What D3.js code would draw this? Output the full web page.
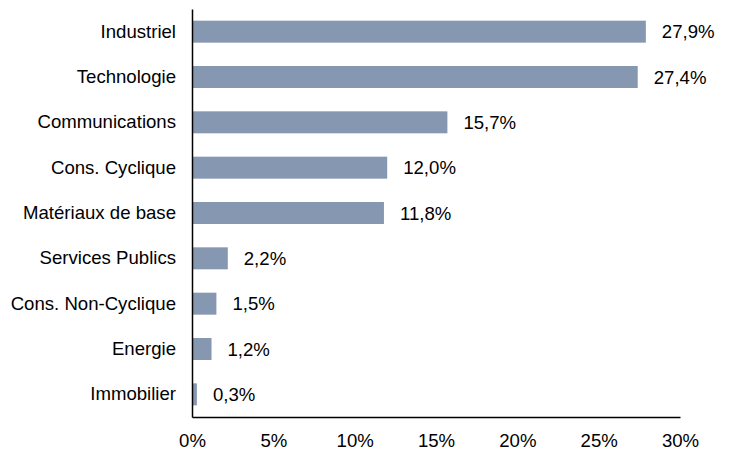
<!DOCTYPE html>
<html><head><meta charset="utf-8">
<script src="https://cdn.jsdelivr.net/npm/d3@7"></script>
<style>body{margin:0;background:#fff}svg{display:block}</style>
</head><body>
<svg id="c" width="730" height="450"></svg>
<script>
const categories = ["Industriel","Technologie","Communications","Cons. Cyclique","Matériaux de base","Services Publics","Cons. Non-Cyclique","Energie","Immobilier"];
const values = [27.9,27.4,15.7,12.0,11.8,2.2,1.5,1.2,0.3];
const tickValues = [0,5,10,15,20,25,30];

const svg = d3.select("#c");
const mLeft = 192, mRight = 680, mTop = 9, mBottom = 417;
const font = "Liberation Sans, Arial, sans-serif";
const fs = 18.6;
const x = d3.scaleLinear().domain([0,30]).range([mLeft,mRight]);
const y = d3.scaleBand().domain(categories).range([mTop,mBottom]).paddingInner(0.515).paddingOuter(0.2575);

svg.selectAll("rect.bar").data(values).join("rect")
  .attr("class","bar")
  .attr("x", x(0))
  .attr("y", (d,i)=>y(categories[i]))
  .attr("width", d=>x(d)-x(0))
  .attr("height", y.bandwidth())
  .attr("fill","#8597B1");

svg.selectAll("text.val").data(values).join("text")
  .attr("class","val")
  .attr("x", d=>x(d)+16)
  .attr("y", (d,i)=>y(categories[i])+y.bandwidth()/2)
  .attr("dy","0.35em")
  .attr("font-family",font).attr("font-size",fs).attr("fill","#000")
  .text(d=>d.toFixed(1).replace(".",",")+"%");

// y axis
const ya = svg.append("g").attr("transform",`translate(${mLeft},0)`)
  .call(d3.axisLeft(y).tickSize(0).tickPadding(16));
ya.select(".domain").attr("stroke","#000").attr("stroke-width",1.5);
ya.selectAll("text").attr("font-family",font).attr("font-size",fs).attr("fill","#000");

// x axis
const xa = svg.append("g").attr("transform",`translate(0,${mBottom})`)
  .call(d3.axisBottom(x).tickValues(tickValues).tickSize(0).tickPadding(17).tickFormat(d=>d+"%"));
xa.select(".domain").attr("stroke","#000").attr("stroke-width",1.5);
xa.selectAll("text").attr("font-family",font).attr("font-size",fs).attr("fill","#000");
</script>
</body></html>
